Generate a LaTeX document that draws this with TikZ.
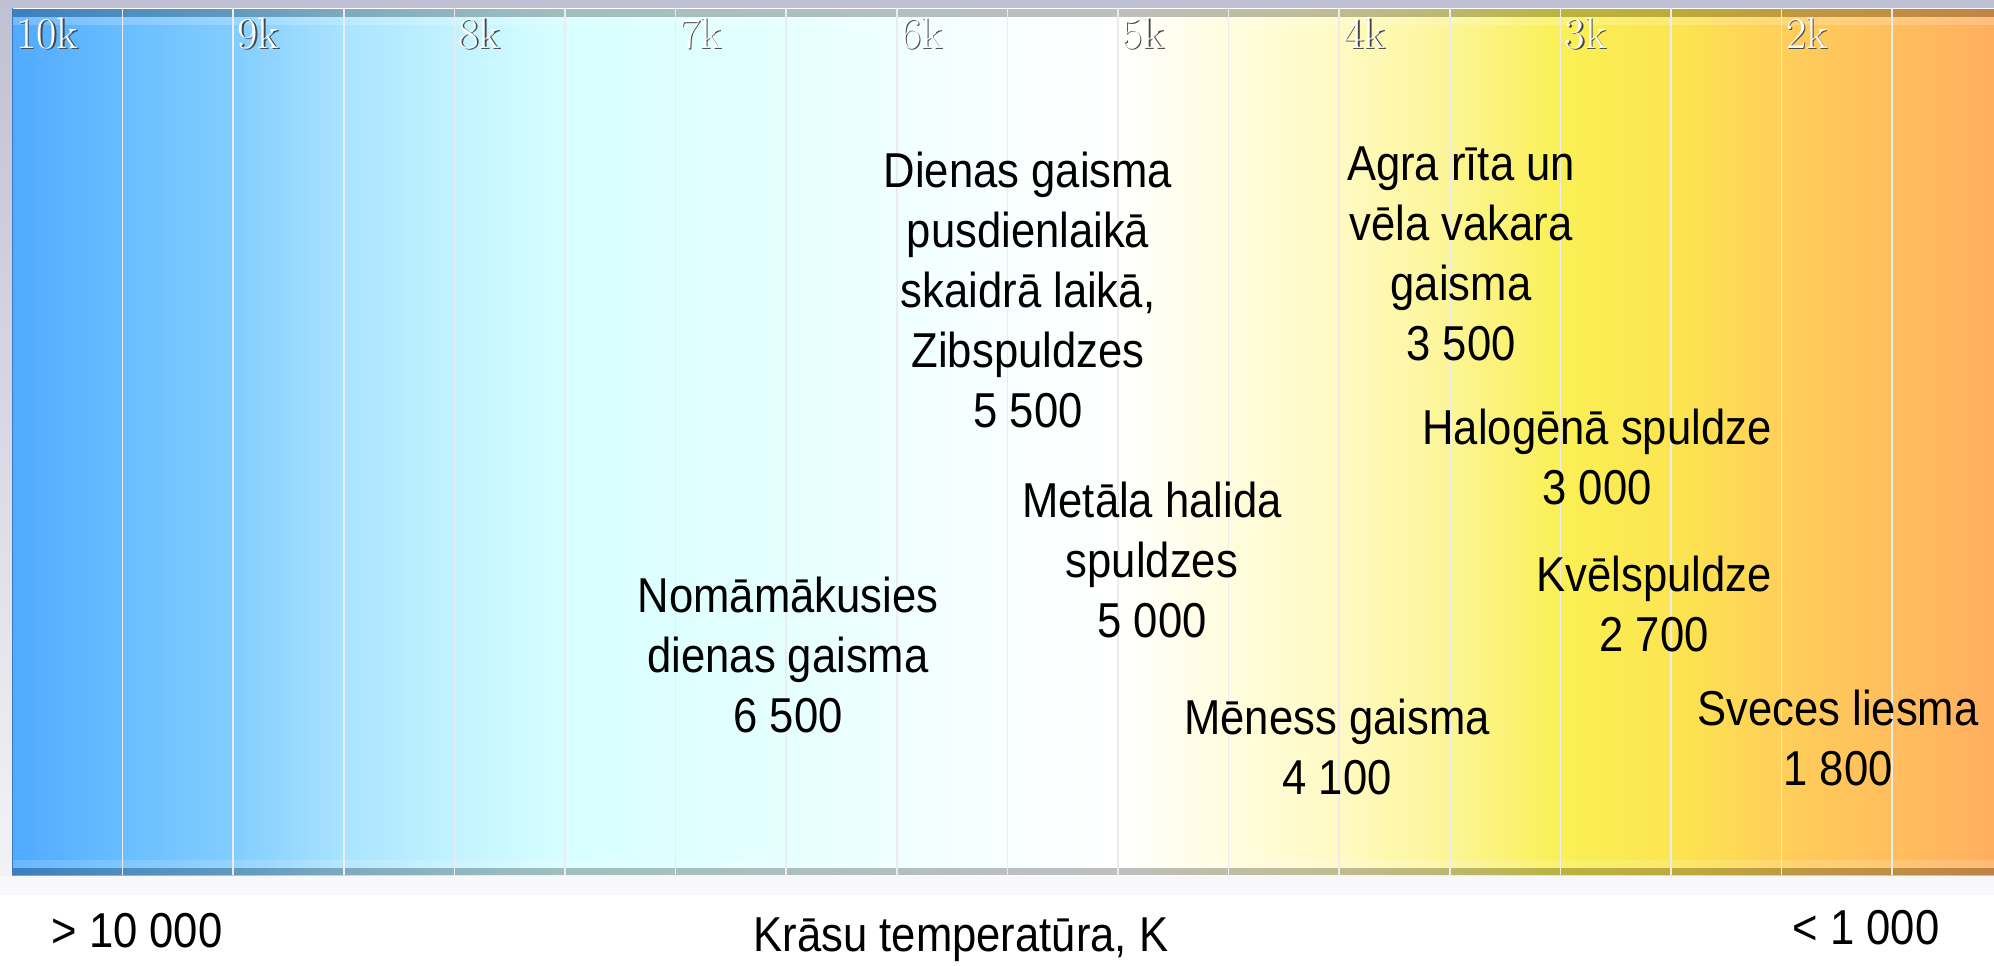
\documentclass[tikz,border=0pt]{standalone}
\usepackage{fontspec}
\newfontfamily\lblfont{Liberation Sans}[FakeStretch=0.89]
\usepackage{xcolor}
\usetikzlibrary{positioning}
\definecolor{FrameLilac}{RGB}{192,192,212}
\definecolor{FrameLite}{RGB}{242,242,246}
\definecolor{BelowGray}{RGB}{248,248,250}
\definecolor{GridWhite}{RGB}{236,236,240}
\definecolor{EdgeBlue}{RGB}{60,120,190}
\definecolor{KShadow}{RGB}{70,70,70}
\definecolor{TempA}{RGB}{80,170,255}
\definecolor{TempB}{RGB}{105,190,255}
\definecolor{TempC}{RGB}{130,205,255}
\definecolor{TempD}{RGB}{170,228,255}
\definecolor{TempE}{RGB}{195,243,255}
\definecolor{TempF}{RGB}{215,255,255}
\definecolor{TempG}{RGB}{230,255,255}
\definecolor{TempH}{RGB}{248,255,255}
\definecolor{TempI}{RGB}{255,255,255}
\definecolor{TempJ}{RGB}{255,253,230}
\definecolor{TempK}{RGB}{255,250,195}
\definecolor{TempL}{RGB}{252,245,150}
\definecolor{TempM}{RGB}{250,240,85}
\definecolor{TempN}{RGB}{252,228,80}
\definecolor{TempO}{RGB}{255,205,90}
\definecolor{TempP}{RGB}{255,175,95}
\pgfdeclarehorizontalshading{kelvinbar}{100bp}{color(0bp)=(TempA); color(25bp)=(TempA);
  color(27.83bp)=(TempB); color(30.63bp)=(TempC); color(33.43bp)=(TempD);
  color(36.23bp)=(TempE); color(39.03bp)=(TempF); color(44.63bp)=(TempG);
  color(49.93bp)=(TempH); color(52.95bp)=(TempI); color(54.95bp)=(TempJ);
  color(58.5bp)=(TempK); color(61.28bp)=(TempL); color(64.05bp)=(TempM);
  color(67.08bp)=(TempN); color(69.85bp)=(TempO); color(75bp)=(TempP); color(100bp)=(TempP)}

\begin{document}
\begin{tikzpicture}[x=0.5pt, y=-0.5pt,
  lbl/.style={font=\lblfont\fontsize{24.5}{30}\selectfont, align=center, inner sep=0pt},
  axislbl/.style={font=\lblfont\fontsize{24.5}{30}\selectfont, inner sep=0pt},
  klbl/.style={font=\fontsize{22}{22}\selectfont, text=white, anchor=base west, inner sep=0pt},
  kshadow/.style={klbl, text=KShadow},
  grid/.style={draw=GridWhite, line width=0.8pt}
]
\useasboundingbox (0,0) rectangle (1994,965);

% background and colour bar
\fill[white] (0,0) rectangle (1994,965);
\fill[BelowGray] (0,875) rectangle (1994,895);
\shade[top color=FrameLilac, bottom color=FrameLite] (0,0) rectangle (12,875);
\fill[FrameLilac] (0,0) rectangle (1994,8);
\shade[shading=kelvinbar] (12,8) rectangle (1994,875);
\fill[black, opacity=0.25] (12,8) rectangle (1994,17);
\fill[white, opacity=0.2] (12,17) rectangle (1994,25);
\fill[white, opacity=0.15] (12,860) rectangle (1994,868);
\fill[black, opacity=0.25] (12,868) rectangle (1994,875);
\draw[white, line width=0.5pt] (12,8) -- (1994,8);
\draw[EdgeBlue, line width=0.5pt] (12,8) -- (12,875);
\foreach \k in {1,...,17}
  \draw[grid] (12+110.6*\k,8) -- (12+110.6*\k,875);

% scale marks
\node[kshadow] (k10s) at (17.5,49.5) {10k};
\node[klbl] (k10) at (16,48) {10k};
\node[kshadow] (k9s) at (238.7,49.5) {9k};
\node[klbl] (k9) at (237.2,48) {9k};
\node[kshadow] (k8s) at (459.9,49.5) {8k};
\node[klbl] (k8) at (458.4,48) {8k};
\node[kshadow] (k7s) at (681.1,49.5) {7k};
\node[klbl] (k7) at (679.6,48) {7k};
\node[kshadow] (k6s) at (902.3,49.5) {6k};
\node[klbl] (k6) at (900.8,48) {6k};
\node[kshadow] (k5s) at (1123.5,49.5) {5k};
\node[klbl] (k5) at (1122,48) {5k};
\node[kshadow] (k4s) at (1344.7,49.5) {4k};
\node[klbl] (k4) at (1343.2,48) {4k};
\node[kshadow] (k3s) at (1565.9,49.5) {3k};
\node[klbl] (k3) at (1564.4,48) {3k};
\node[kshadow] (k2s) at (1787.1,49.5) {2k};
\node[klbl] (k2) at (1785.6,48) {2k};

% light sources
\node[lbl] (noon) at (1028,289.5) {Dienas gaisma\\pusdienlaikā\\skaidrā laikā,\\Zibspuldzes\\5 500};
\node[lbl] (dawn) at (1461,254) {Agra rīta un\\vēla vakara\\gaisma\\3 500};
\node[lbl] (halogen) at (1597,456.5) {Halogēnā spuldze\\3 000};
\node[lbl] (halide) at (1152,559.5) {Metāla halida\\spuldzes\\5 000};
\node[lbl] (bulb) at (1654,604) {Kvēlspuldze\\2 700};
\node[lbl] (overcast) at (788,654.5) {Nomāmākusies\\dienas gaisma\\6 500};
\node[lbl] (moon) at (1337,747) {Mēness gaisma\\4 100};
\node[lbl] (candle) at (1838,738) {Sveces liesma\\1 800};

% axis
\node[axislbl] (hot) at (137,931) {> 10 000};
\node[axislbl] (axis) at (961,940) {Krāsu temperatūra, K};
\node[axislbl] (cold) at (1866,928) {< 1 000};
\end{tikzpicture}
\end{document}
